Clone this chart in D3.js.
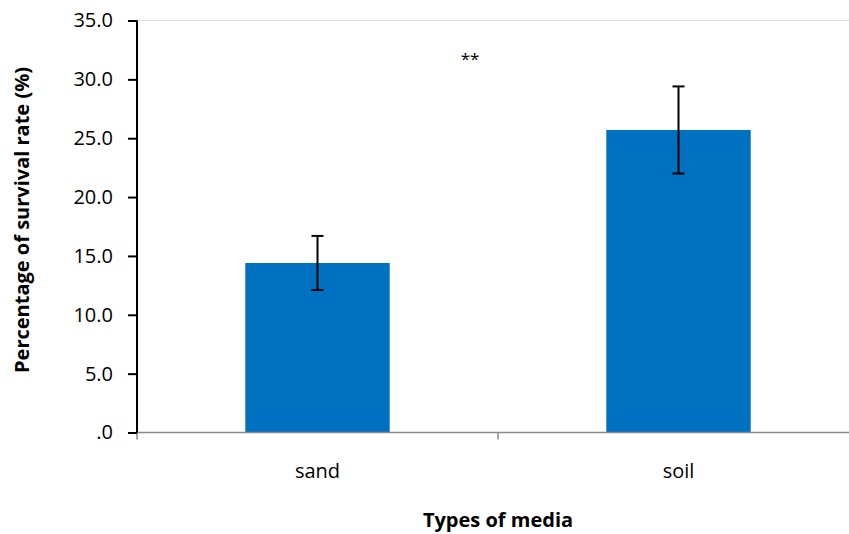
<!DOCTYPE html>
<html><head><meta charset="utf-8">
<script src="https://cdn.jsdelivr.net/npm/d3@7"></script>
<style>body{margin:0;background:#fff}svg{display:block}</style>
</head><body>
<script>
const categories = ["sand", "soil"];
const values = [14.4, 25.7];
const errors = [2.3, 3.7];
const yTicks = [0, 5, 10, 15, 20, 25, 30, 35];
const yTickLabels = [".0", "5.0", "10.0", "15.0", "20.0", "25.0", "30.0", "35.0"];
const annotation = "**";
const yTitle = "Percentage of survival rate (%)";
const xTitle = "Types of media";

const W = 849, H = 534;
const font = "'Open Sans', 'Noto Sans', sans-serif";
const svg = d3.select("body").append("svg").attr("width", W).attr("height", H);

const x = d3.scaleBand().domain(categories).range([137, 859]).padding(0);
const y = d3.scaleLinear().domain([0, 35]).range([432.5, 20.5]);
const barW = x.bandwidth() * 0.4;

// top border line
svg.append("line").attr("x1", 137).attr("x2", W).attr("y1", y(35)).attr("y2", y(35))
  .attr("stroke", "#d9d9d9").attr("stroke-width", 1);

// bars
svg.selectAll("rect.bar").data(categories).enter().append("rect")
  .attr("x", d => x(d) + (x.bandwidth() - barW) / 2)
  .attr("width", barW)
  .attr("y", (d, i) => y(values[i]))
  .attr("height", (d, i) => y(0) - y(values[i]))
  .attr("fill", "#0070C0");

// error bars
const eg = svg.selectAll("g.err").data(categories).enter().append("g")
  .attr("stroke", "#000").attr("stroke-width", 2);
eg.append("line")
  .attr("x1", d => x(d) + x.bandwidth() / 2).attr("x2", d => x(d) + x.bandwidth() / 2)
  .attr("y1", (d, i) => y(values[i] + errors[i])).attr("y2", (d, i) => y(values[i] - errors[i]));
eg.append("line")
  .attr("x1", d => x(d) + x.bandwidth() / 2 - 6).attr("x2", d => x(d) + x.bandwidth() / 2 + 6)
  .attr("y1", (d, i) => y(values[i] + errors[i])).attr("y2", (d, i) => y(values[i] + errors[i]));
eg.append("line")
  .attr("x1", d => x(d) + x.bandwidth() / 2 - 6).attr("x2", d => x(d) + x.bandwidth() / 2 + 6)
  .attr("y1", (d, i) => y(values[i] - errors[i])).attr("y2", (d, i) => y(values[i] - errors[i]));

// x axis
const xAxisG = svg.append("g");
xAxisG.append("line").attr("x1", 137).attr("x2", W).attr("y1", y(0)).attr("y2", y(0))
  .attr("stroke", "#898989").attr("stroke-width", 1.5);
const xTickPos = [137, 137 + x.step(), 137 + 2 * x.step()];
xAxisG.selectAll("line.t").data(xTickPos).enter().append("line")
  .attr("x1", d => d).attr("x2", d => d).attr("y1", y(0)).attr("y2", y(0) + 7)
  .attr("stroke", "#898989").attr("stroke-width", 1.5);
xAxisG.selectAll("text").data(categories).enter().append("text")
  .attr("x", d => x(d) + x.bandwidth() / 2).attr("y", 478)
  .attr("text-anchor", "middle").attr("font-family", font).attr("font-size", 20)
  .attr("fill", "#000").text(d => d);

// y axis
const yAxis = d3.axisLeft(y).tickValues(yTicks).tickSize(9).tickPadding(15)
  .tickFormat((d, i) => yTickLabels[i]);
const yg = svg.append("g").attr("transform", "translate(137,0)").call(yAxis);
yg.select(".domain").attr("stroke", "#000").attr("stroke-width", 2).attr("d", `M0,${y(35)}V${y(0)}`);
yg.selectAll(".tick line").attr("stroke", "#000").attr("stroke-width", 2);
yg.selectAll(".tick text").attr("font-family", font).attr("font-size", 20).attr("fill", "#000");

// annotation
svg.append("text").attr("x", 470).attr("y", 65).attr("text-anchor", "middle")
  .attr("font-family", font).attr("font-size", 17).attr("fill", "#000").text(annotation);

// titles
svg.append("text").attr("transform", `translate(29,220) rotate(-90)`)
  .attr("text-anchor", "middle").attr("font-family", font).attr("font-size", 20)
  .attr("font-weight", "bold").attr("fill", "#000").text(yTitle);
svg.append("text").attr("x", 498).attr("y", 527).attr("text-anchor", "middle")
  .attr("font-family", font).attr("font-size", 20).attr("font-weight", "bold")
  .attr("fill", "#000").text(xTitle);
</script>
</body></html>
